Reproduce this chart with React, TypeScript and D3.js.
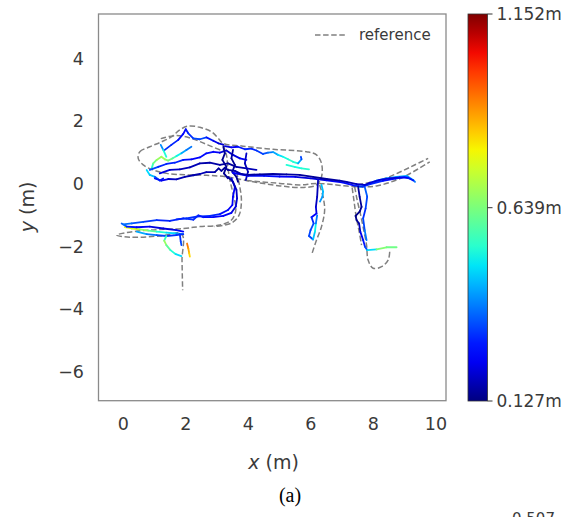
import React from 'react';
import * as d3 from 'd3';

type P = [number, number, number]; // x (m), y (m), error (m)
type R = [number, number];

// estimated trajectory pieces, each point: x, y, error
const corridor: P[] = [
  [1.01, 0.18, 0.3], [1.22, 0.11, 0.25], [1.44, 0.16, 0.2], [1.7, 0.15, 0.18], [1.97, 0.23, 0.17],
  [2.24, 0.28, 0.16], [2.45, 0.32, 0.17], [2.66, 0.38, 0.18], [2.93, 0.38, 0.16], [3.05, 0.5, 0.15],
  [3.14, 0.42, 0.15], [3.25, 0.52, 0.15], [3.35, 0.45, 0.15], [3.57, 0.42, 0.16], [3.78, 0.32, 0.17],
  [3.99, 0.29, 0.16], [4.37, 0.31, 0.15], [4.79, 0.32, 0.15], [5.22, 0.31, 0.16], [5.64, 0.29, 0.15],
  [6.07, 0.23, 0.15], [6.5, 0.16, 0.15], [6.92, 0.11, 0.16], [7.14, 0.07, 0.17], [7.46, 0.0, 0.18],
  [7.72, -0.03, 0.2], [7.88, 0.04, 0.2], [8.2, 0.13, 0.22], [8.52, 0.18, 0.2], [8.84, 0.21, 0.22],
  [9.11, 0.2, 0.25], [9.27, 0.11, 0.3],
];
const corridor2: P[] = [
  [3.5, 0.36, 0.22], [4.0, 0.26, 0.25], [4.5, 0.26, 0.28], [5.0, 0.24, 0.25], [5.5, 0.23, 0.22],
  [6.0, 0.18, 0.2], [6.5, 0.12, 0.22], [7.0, 0.05, 0.25], [7.4, -0.05, 0.28], [7.65, -0.08, 0.3],
  [7.9, 0.0, 0.3], [8.3, 0.1, 0.28], [8.7, 0.17, 0.25], [9.0, 0.22, 0.3], [9.2, 0.16, 0.35],
];
const upperRight: P[] = [
  [3.25, 1.21, 0.2], [3.46, 1.17, 0.22], [3.67, 1.19, 0.25], [3.89, 1.11, 0.3], [4.1, 1.13, 0.28],
  [4.26, 1.07, 0.3], [4.47, 0.96, 0.32], [4.63, 1.0, 0.35], [4.79, 1.02, 0.4], [4.95, 0.93, 0.45],
  [5.11, 0.87, 0.5], [5.27, 0.79, 0.52], [5.43, 0.71, 0.55], [5.59, 0.66, 0.5], [5.7, 0.79, 0.35],
  [5.68, 0.87, 0.3],
];
const upperTail: P[] = [[5.22, 0.61, 0.55], [5.48, 0.55, 0.5], [5.7, 0.5, 0.52], [5.94, 0.47, 0.55]];
const cloudTop: P[] = [
  [1.33, 1.09, 0.3], [1.54, 1.25, 0.3], [1.76, 1.41, 0.28], [1.92, 1.6, 0.25], [2.0, 1.75, 0.25],
  [2.08, 1.62, 0.3], [2.24, 1.46, 0.3], [2.45, 1.43, 0.35], [2.66, 1.49, 0.3], [2.88, 1.38, 0.25],
  [3.04, 1.3, 0.2], [3.2, 1.26, 0.2],
];
const cloudMid: P[] = [
  [0.85, 0.45, 0.35], [1.12, 0.55, 0.3], [1.38, 0.64, 0.28], [1.65, 0.68, 0.3], [1.92, 0.77, 0.28],
  [2.18, 0.79, 0.25], [2.45, 0.85, 0.25], [2.66, 0.98, 0.28], [2.88, 1.03, 0.25], [3.09, 1.0, 0.22],
  [3.3, 1.07, 0.2], [3.51, 0.93, 0.2], [3.73, 0.82, 0.22], [3.94, 0.77, 0.25],
];
const cloudLow: P[] = [
  [1.17, 0.34, 0.22], [1.49, 0.45, 0.2], [1.81, 0.47, 0.18], [2.13, 0.53, 0.18], [2.45, 0.66, 0.17],
  [2.77, 0.68, 0.16], [3.09, 0.61, 0.16], [3.35, 0.66, 0.15], [3.62, 0.55, 0.16], [3.94, 0.5, 0.17],
  [4.26, 0.45, 0.18],
];
const cloudSquiggle: P[] = [
  [0.91, 0.5, 0.5], [0.96, 0.66, 0.6], [1.07, 0.77, 0.65], [1.22, 0.87, 0.7], [1.33, 0.79, 0.68],
  [1.44, 0.75, 0.65], [1.58, 0.82, 0.6], [1.7, 0.89, 0.55], [1.86, 0.98, 0.45], [2.02, 1.09, 0.4],
  [2.18, 1.19, 0.35],
];
const cloudStroke: P[] = [[1.2, 1.25, 0.35], [1.28, 1.09, 0.45], [1.38, 0.87, 0.6]];
const cloudLeft: P[] = [[0.75, 0.45, 0.45], [0.85, 0.29, 0.5], [1.01, 0.23, 0.4], [1.17, 0.11, 0.3], [1.28, 0.18, 0.25]];
const cloudVert1: P[] = [[3.2, 1.19, 0.15], [3.25, 0.98, 0.14], [3.17, 0.77, 0.15], [3.3, 0.55, 0.14], [3.22, 0.34, 0.15], [3.35, 0.18, 0.14]];
const cloudVert2: P[] = [[3.51, 1.09, 0.16], [3.46, 0.82, 0.15], [3.57, 0.61, 0.14], [3.49, 0.39, 0.15], [3.62, 0.23, 0.14], [3.67, 0.07, 0.15]];
const cloudVert3: P[] = [[3.94, 0.98, 0.2], [3.89, 0.66, 0.18], [3.99, 0.39, 0.17], [3.92, 0.13, 0.18]];
const descent1: P[] = [
  [3.35, 0.23, 0.16], [3.51, 0.07, 0.17], [3.62, -0.19, 0.18], [3.64, -0.46, 0.2], [3.6, -0.72, 0.2],
  [3.46, -0.92, 0.22], [3.2, -1.02, 0.25], [2.88, -1.06, 0.25], [2.56, -1.06, 0.28], [2.4, -1.0, 0.28],
  [2.24, -1.14, 0.3], [1.92, -1.1, 0.3], [1.49, -1.18, 0.28], [1.07, -1.15, 0.3], [0.64, -1.21, 0.32],
  [0.27, -1.26, 0.35], [0.0, -1.29, 0.38],
];
const descent2: P[] = [
  [3.46, 0.18, 0.25], [3.57, -0.09, 0.25], [3.51, -0.4, 0.25], [3.49, -0.67, 0.22], [3.35, -0.83, 0.25],
  [3.09, -0.96, 0.28], [2.77, -1.02, 0.3], [2.34, -1.04, 0.3], [2.02, -1.1, 0.3], [1.7, -1.13, 0.3],
];
const lowBlue: P[] = [[-0.05, -1.26, 0.4], [0.11, -1.36, 0.3], [0.43, -1.38, 0.25], [0.85, -1.36, 0.22], [1.28, -1.42, 0.2], [1.7, -1.47, 0.22], [1.92, -1.52, 0.25]];
const lowWarm: P[] = [[0.05, -1.38, 0.75], [0.27, -1.42, 0.8], [0.53, -1.45, 0.7], [0.8, -1.49, 0.65], [1.07, -1.52, 0.55], [1.38, -1.55, 0.5], [1.7, -1.58, 0.45], [1.92, -1.6, 0.35]];
const lowCyan: P[] = [[0.43, -1.52, 0.45], [0.75, -1.6, 0.4], [1.07, -1.63, 0.35], [1.38, -1.66, 0.3], [1.7, -1.63, 0.3], [1.92, -1.6, 0.3]];
const hook: P[] = [[1.38, -1.66, 0.4], [1.31, -1.81, 0.7], [1.38, -1.95, 0.65], [1.51, -2.11, 0.55], [1.68, -2.24, 0.5], [1.86, -2.3, 0.45]];
const redTail: P[] = [[2.04, -1.9, 0.95], [2.08, -2.05, 0.9], [2.11, -2.21, 0.85], [2.13, -2.32, 0.8]];
const lowDrop: P[] = [[1.81, -1.6, 0.3], [1.84, -1.84, 0.3], [1.86, -1.95, 0.35]];
const branch6: P[] = [
  [6.23, 0.13, 0.18], [6.2, -0.41, 0.17], [6.16, -0.73, 0.2], [6.18, -0.94, 0.22], [6.02, -1.06, 0.28],
  [6.09, -1.26, 0.3], [5.99, -1.47, 0.35], [5.94, -1.66, 0.3], [6.07, -1.77, 0.35], [6.13, -1.52, 0.55],
  [6.16, -1.26, 0.45], [6.2, -1.0, 0.3],
];
const branch6b: P[] = [[6.34, -0.03, 0.45], [6.39, -0.24, 0.45], [6.37, -0.4, 0.42], [6.29, -0.56, 0.4]];
const branch7: P[] = [
  [7.51, -0.08, 0.15], [7.56, -0.41, 0.15], [7.62, -0.73, 0.14], [7.56, -0.88, 0.14], [7.43, -1.02, 0.13],
  [7.46, -1.15, 0.14], [7.54, -1.26, 0.15], [7.58, -1.52, 0.2], [7.67, -1.79, 0.25], [7.73, -2.0, 0.3],
  [7.8, -2.11, 0.35], [8.1, -2.09, 0.6], [8.42, -2.02, 0.7], [8.74, -2.02, 0.55],
];
const branch7b: P[] = [[7.72, -0.09, 0.35], [7.8, -0.4, 0.35], [7.75, -0.78, 0.3], [7.67, -1.1, 0.3], [7.72, -1.47, 0.35], [7.78, -1.79, 0.4]];
const eastLight: P[] = [[7.56, -0.09, 0.5], [7.83, 0.0, 0.45], [8.1, 0.11, 0.4], [8.42, 0.18, 0.4], [8.74, 0.23, 0.42], [9.06, 0.26, 0.45], [9.27, 0.13, 0.4], [9.33, 0.07, 0.35]];

const trajectories = [
  lowWarm, lowCyan, lowBlue, hook, redTail, lowDrop, descent2, descent1,
  cloudLeft, cloudSquiggle, cloudStroke, cloudTop, cloudMid, cloudLow, cloudVert1, cloudVert2, cloudVert3,
  upperTail, upperRight, branch6b, branch6, branch7b, eastLight, corridor2, corridor, branch7,
];

// reference (ground truth) paths
const refLoop: R[] = [
  [0.48, 0.82], [0.53, 1.03], [0.85, 1.19], [1.23, 1.35], [1.55, 1.51], [1.81, 1.73], [2.08, 1.85],
  [2.45, 1.81], [2.82, 1.67], [3.04, 1.46], [3.19, 1.3], [3.83, 1.21], [4.79, 1.11], [5.86, 1.03],
  [6.18, 0.93], [6.34, 0.66], [6.34, 0.23], [6.18, -0.03], [5.75, -0.11], [5.01, -0.06], [3.94, 0.11],
  [3.3, 0.23], [2.66, 0.28], [2.03, 0.29], [1.39, 0.34], [0.96, 0.45], [0.64, 0.61],
];
const refInner: R[] = [[1.2, 1.45], [1.7, 1.55], [2.2, 1.45], [2.7, 1.25], [3.2, 1.05]];
const refS: R[] = [
  [3.19, 1.25], [3.3, 0.93], [3.35, 0.5], [3.41, 0.13], [3.51, -0.3], [3.6, -0.83], [3.46, -1.15],
  [3.09, -1.31], [2.45, -1.36], [1.92, -1.42], [0.85, -1.47], [0.11, -1.55], [-0.21, -1.63],
  [0.21, -1.7], [1.17, -1.66], [1.87, -1.6], [1.88, -2.43], [1.9, -3.39],
];
const refS2: R[] = [[3.62, 0.4], [3.72, -0.05], [3.78, -0.55], [3.7, -1.0], [3.45, -1.25], [2.9, -1.36]];
const refEast: R[] = [[3.94, 0.11], [5.01, 0.02], [5.64, -0.03], [6.18, 0.02], [6.82, -0.03], [7.46, -0.09], [8.1, -0.06], [8.74, 0.13], [9.27, 0.39], [9.8, 0.71]];
const refEast2: R[] = [[7.5, -0.02], [8.2, 0.12], [8.8, 0.36], [9.3, 0.6], [9.75, 0.82]];
const refBranch6: R[] = [[6.28, -0.03], [6.39, -0.41], [6.44, -0.83], [6.34, -1.36], [6.18, -1.79], [6.02, -2.27]];
const refBranch7: R[] = [[7.4, -0.09], [7.48, -0.51], [7.58, -0.94], [7.69, -1.47], [7.78, -1.95], [7.83, -2.43], [7.99, -2.69], [8.26, -2.64], [8.47, -2.43], [8.52, -2.16]];
const refBranch7b: R[] = [[7.32, -0.12], [7.38, -0.55], [7.45, -1.05], [7.55, -1.55], [7.62, -1.95]];
const refPaths = [refInner, refS, refS2, refEast, refEast2, refBranch6, refBranch7, refBranch7b];

const xTicks = [0, 2, 4, 6, 8, 10];
const yTicks = [4, 2, 0, -2, -4, -6];
const errMin = 0.127;
const errMax = 1.152;
const cbarTicks = [0.127, 0.639, 1.152];

// matplotlib jet
const jetR = d3.scaleLinear([0, 0.35, 0.66, 0.89, 1], [0, 0, 1, 1, 0.5]).clamp(true);
const jetG = d3.scaleLinear([0, 0.125, 0.375, 0.64, 0.91, 1], [0, 0, 1, 1, 0, 0]).clamp(true);
const jetB = d3.scaleLinear([0, 0.11, 0.34, 0.65, 1], [0.5, 1, 1, 0, 0]).clamp(true);
const jet = (t: number) => d3.rgb(jetR(t) * 255, jetG(t) * 255, jetB(t) * 255).formatHex();

const font = 'DejaVu Sans, sans-serif';
const textColor = '#3a3a3a';

export default function App() {
  const W = 579, H = 517;
  const left = 98.5, right = 446, top = 14, bottom = 400.7;
  const x = d3.scaleLinear([-0.79, 10.32], [left, right]);
  const y = d3.scaleLinear([-6.92, 5.43], [bottom, top]);
  const norm = d3.scaleLinear([errMin, errMax], [0, 1]);
  const cbX = 468, cbW = 19.5;
  const cbY = d3.scaleLinear([errMin, errMax], [401, 14]);

  const refLine = d3.line<R>().x(d => x(d[0])).y(d => y(d[1])).curve(d3.curveCatmullRom.alpha(0.5));
  const refLoopLine = d3.line<R>().x(d => x(d[0])).y(d => y(d[1])).curve(d3.curveCatmullRomClosed.alpha(0.5));
  const stops = d3.range(0, 21).map(i => i / 20);

  return (
    <div style={{ position: 'absolute', left: 0, top: 0 }}>
      <svg width={W} height={H} style={{ display: 'block', background: '#fff' }}>
        <defs>
          <linearGradient id="jet" x1="0" y1="1" x2="0" y2="0">
            {stops.map(t => <stop key={t} offset={t} stopColor={jet(t)} />)}
          </linearGradient>
          <clipPath id="plot"><rect x={left} y={top} width={right - left} height={bottom - top} /></clipPath>
        </defs>

        <g clipPath="url(#plot)">
          {[refLoopLine(refLoop)].concat(refPaths.map(p => refLine(p))).map((d, i) => (
            <path key={'r' + i} d={d || ''} fill="none" stroke="#808080" strokeWidth={1.5} strokeDasharray="5.5 2.6" />
          ))}
          {trajectories.map((tr, k) => (
            <g key={'t' + k}>
              {d3.pairs(tr).map(([a, b], i) => (
                <line key={i} x1={x(a[0])} y1={y(a[1])} x2={x(b[0])} y2={y(b[1])}
                  stroke={jet(norm((a[2] + b[2]) / 2))} strokeWidth={1.8} strokeLinecap="round" />
              ))}
            </g>
          ))}
        </g>

        <rect x={left} y={top} width={right - left} height={bottom - top} fill="none" stroke="#8a8a8a" strokeWidth={1.3} />

        {/* legend */}
        <line x1={315} x2={346} y1={35} y2={35} stroke="#808080" strokeWidth={1.5} strokeDasharray="5.5 2.6" />
        <text x={359} y={35} dominantBaseline="central" fontFamily={font} fontSize={15} fill={textColor}>reference</text>

        {xTicks.map(t => (
          <text key={'x' + t} x={x(t)} y={424} textAnchor="middle" dominantBaseline="central" fontFamily={font} fontSize={17.5} fill={textColor}>
            {t < 0 ? '\u2212' + Math.abs(t) : t}
          </text>
        ))}
        {yTicks.map(t => (
          <text key={'y' + t} x={84} y={y(t)} textAnchor="end" dominantBaseline="central" fontFamily={font} fontSize={17.5} fill={textColor}>
            {t < 0 ? '\u2212' + Math.abs(t) : t}
          </text>
        ))}

        <text x={273.5} y={469} textAnchor="middle" fontFamily={font} fontSize={19} fill={textColor}>
          <tspan fontStyle="italic">x</tspan> (m)
        </text>
        <text transform="translate(27,207) rotate(-90)" textAnchor="middle" dominantBaseline="central" fontFamily={font} fontSize={19} fill={textColor}>
          <tspan fontStyle="italic">y</tspan> (m)
        </text>

        {/* colorbar */}
        <rect x={cbX} y={cbY(errMax)} width={cbW} height={cbY(errMin) - cbY(errMax)} fill="url(#jet)" stroke="#333" strokeWidth={0.8} />
        {cbarTicks.map(t => (
          <g key={'c' + t}>
            <line x1={cbX + cbW} x2={cbX + cbW + 5} y1={cbY(t)} y2={cbY(t)} stroke="#333" strokeWidth={1} />
            <text x={cbX + cbW + 9} y={cbY(t)} dominantBaseline="central" fontFamily={font} fontSize={17} fill={textColor}>
              {t.toFixed(3)}m
            </text>
          </g>
        ))}

        <text x={290} y={502} textAnchor="middle" fontFamily="Liberation Serif, Times New Roman, serif" fontSize={20} fill="#000">(a)</text>
        <text x={512} y={524} fontFamily={font} fontSize={15} fill={textColor}>0.507</text>
      </svg>
    </div>
  );
}
